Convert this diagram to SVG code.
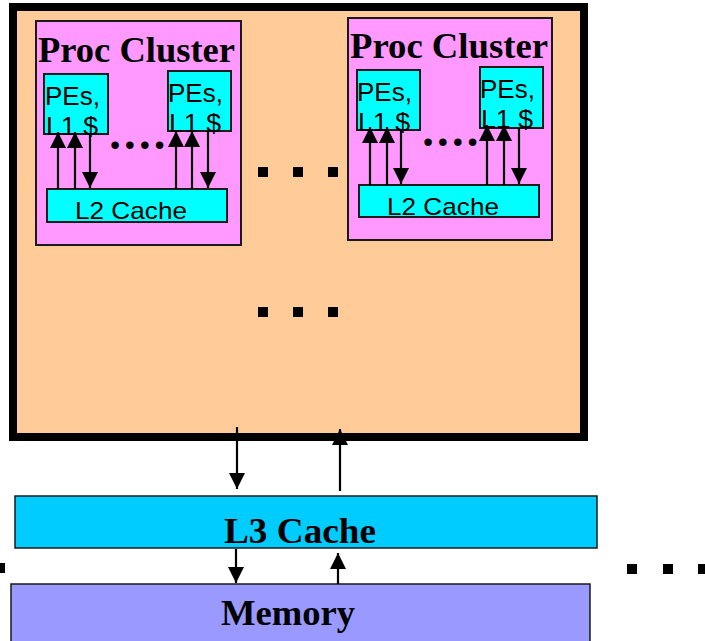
<svg xmlns="http://www.w3.org/2000/svg" width="705" height="641" viewBox="0 0 705 641">
  <style>
    .chip { fill: #FFCC99; stroke: #000; stroke-width: 8; }
    .cluster { fill: #FF99FF; stroke: #1a1a1a; stroke-width: 2; }
    .pe { fill: #00FFFF; stroke: #1a1a1a; stroke-width: 2; }
    .l2 { fill: #00FFFF; stroke: #1a1a1a; stroke-width: 2; }
    .l3 { fill: #00CCFF; stroke: #1a1a1a; stroke-width: 1.5; }
    .mem { fill: #9999FF; stroke: #1a1a1a; stroke-width: 1.5; }
    .title { font-family: "Liberation Serif", "Times New Roman", serif; font-weight: bold; fill: #000; }
    .sans { font-family: "Liberation Sans", Arial, sans-serif; fill: #000; }
    .dots { font-family: "Liberation Serif", "Times New Roman", serif; font-weight: bold; font-style: italic; font-size: 46px; fill: #000; }
    .link { stroke: #000; stroke-width: 2.2; fill: none; }
    .sq { fill: #000; }
  </style>
  <defs>
    <marker id="head" viewBox="0 0 16 16" refX="16" refY="8" markerWidth="16" markerHeight="16" markerUnits="userSpaceOnUse" orient="auto">
      <path d="M0,0 L16,8 L0,16 Z" fill="#000"/>
    </marker>
  </defs>

  <rect width="705" height="641" fill="#fff"/>

  <!-- chip enclosure -->
  <g id="chip">
    <rect class="chip" x="13" y="7" width="571" height="430"/>
  </g>

  <!-- processor cluster 1 -->
  <g id="cluster1">
    <rect class="cluster" x="36" y="21" width="205" height="224"/>
    <text class="title" x="38" y="62" font-size="35" textLength="197" lengthAdjust="spacingAndGlyphs">Proc Cluster</text>
    <rect class="pe" x="44" y="74" width="64" height="60"/>
    <rect class="pe" x="168" y="71" width="63" height="60"/>
    <text class="sans" x="45" y="105" font-size="25" textLength="55" lengthAdjust="spacingAndGlyphs">PEs,</text>
    <text class="sans" x="46" y="135" font-size="25" textLength="52" lengthAdjust="spacingAndGlyphs">L1 $</text>
    <text class="sans" x="168" y="102" font-size="25" textLength="55" lengthAdjust="spacingAndGlyphs">PEs,</text>
    <text class="sans" x="169" y="132" font-size="25" textLength="52" lengthAdjust="spacingAndGlyphs">L1 $</text>
    <text class="dots" x="111" y="149" textLength="56" lengthAdjust="spacing">. . . .</text>
    <rect class="l2" x="47" y="189" width="180" height="33"/>
    <text class="sans" x="75" y="219" font-size="24" textLength="112" lengthAdjust="spacingAndGlyphs">L2 Cache</text>
  </g>

  <!-- processor cluster 2 -->
  <g id="cluster2">
    <rect class="cluster" x="348" y="18" width="204" height="222"/>
    <text class="title" x="350" y="58" font-size="35" textLength="198" lengthAdjust="spacingAndGlyphs">Proc Cluster</text>
    <rect class="pe" x="357" y="70" width="63" height="60"/>
    <rect class="pe" x="480" y="67" width="63" height="61"/>
    <text class="sans" x="357" y="101" font-size="25" textLength="55" lengthAdjust="spacingAndGlyphs">PEs,</text>
    <text class="sans" x="358" y="131" font-size="25" textLength="52" lengthAdjust="spacingAndGlyphs">L1 $</text>
    <text class="sans" x="480" y="98" font-size="25" textLength="55" lengthAdjust="spacingAndGlyphs">PEs,</text>
    <text class="sans" x="481" y="128" font-size="25" textLength="52" lengthAdjust="spacingAndGlyphs">L1 $</text>
    <text class="dots" x="424" y="146" textLength="56" lengthAdjust="spacing">. . . .</text>
    <rect class="l2" x="359" y="185" width="180" height="32"/>
    <text class="sans" x="387" y="215" font-size="24" textLength="112" lengthAdjust="spacingAndGlyphs">L2 Cache</text>
  </g>

  <!-- ellipsis marks for more clusters -->
  <g id="more-clusters">
    <rect class="sq" x="258" y="167" width="10" height="10"/>
    <rect class="sq" x="293" y="167" width="10" height="10"/>
    <rect class="sq" x="328" y="167" width="10" height="10"/>
    <rect class="sq" x="258" y="307" width="10" height="10"/>
    <rect class="sq" x="293" y="307" width="10" height="10"/>
    <rect class="sq" x="328" y="307" width="10" height="10"/>
  </g>

  <!-- L3 cache -->
  <g id="l3">
    <rect class="l3" x="15" y="496" width="582" height="52"/>
    <text class="title" x="224" y="543" font-size="35" textLength="152" lengthAdjust="spacingAndGlyphs">L3 Cache</text>
  </g>

  <!-- main memory -->
  <g id="memory">
    <rect class="mem" x="11" y="584" width="579" height="70"/>
    <text class="title" x="221" y="625" font-size="35" textLength="134" lengthAdjust="spacingAndGlyphs">Memory</text>
  </g>

  <!-- ellipsis marks for more chips -->
  <g id="more-chips">
    <rect class="sq" x="-5" y="563" width="10" height="10"/>
    <rect class="sq" x="627" y="564" width="10" height="10"/>
    <rect class="sq" x="663" y="564" width="10" height="10"/>
    <rect class="sq" x="698" y="564" width="10" height="10"/>
  </g>

  <!-- data paths -->
  <g id="connectors">
    <!-- cluster 1, left PE group -->
    <line class="link" x1="58" y1="189" x2="58" y2="132" marker-end="url(#head)"/>
    <line class="link" x1="75" y1="189" x2="75" y2="132" marker-end="url(#head)"/>
    <line class="link" x1="90" y1="134" x2="90" y2="188" marker-end="url(#head)"/>
    <!-- cluster 1, right PE group -->
    <line class="link" x1="176" y1="189" x2="176" y2="131" marker-end="url(#head)"/>
    <line class="link" x1="192" y1="189" x2="192" y2="131" marker-end="url(#head)"/>
    <line class="link" x1="208" y1="131" x2="208" y2="188" marker-end="url(#head)"/>
    <!-- cluster 2, left PE group -->
    <line class="link" x1="370" y1="185" x2="370" y2="127" marker-end="url(#head)"/>
    <line class="link" x1="387" y1="185" x2="387" y2="127" marker-end="url(#head)"/>
    <line class="link" x1="401" y1="130" x2="401" y2="184" marker-end="url(#head)"/>
    <!-- cluster 2, right PE group -->
    <line class="link" x1="487" y1="185" x2="487" y2="125" marker-end="url(#head)"/>
    <line class="link" x1="504" y1="185" x2="504" y2="125" marker-end="url(#head)"/>
    <line class="link" x1="519" y1="128" x2="519" y2="184" marker-end="url(#head)"/>
    <!-- chip to L3 -->
    <line class="link" x1="237" y1="427" x2="237" y2="489" marker-end="url(#head)"/>
    <line class="link" x1="340" y1="491" x2="340" y2="429" marker-end="url(#head)"/>
    <!-- L3 to memory -->
    <line class="link" x1="236" y1="549" x2="236" y2="583" marker-end="url(#head)"/>
    <line class="link" x1="338" y1="584" x2="338" y2="553" marker-end="url(#head)"/>
  </g>
</svg>
